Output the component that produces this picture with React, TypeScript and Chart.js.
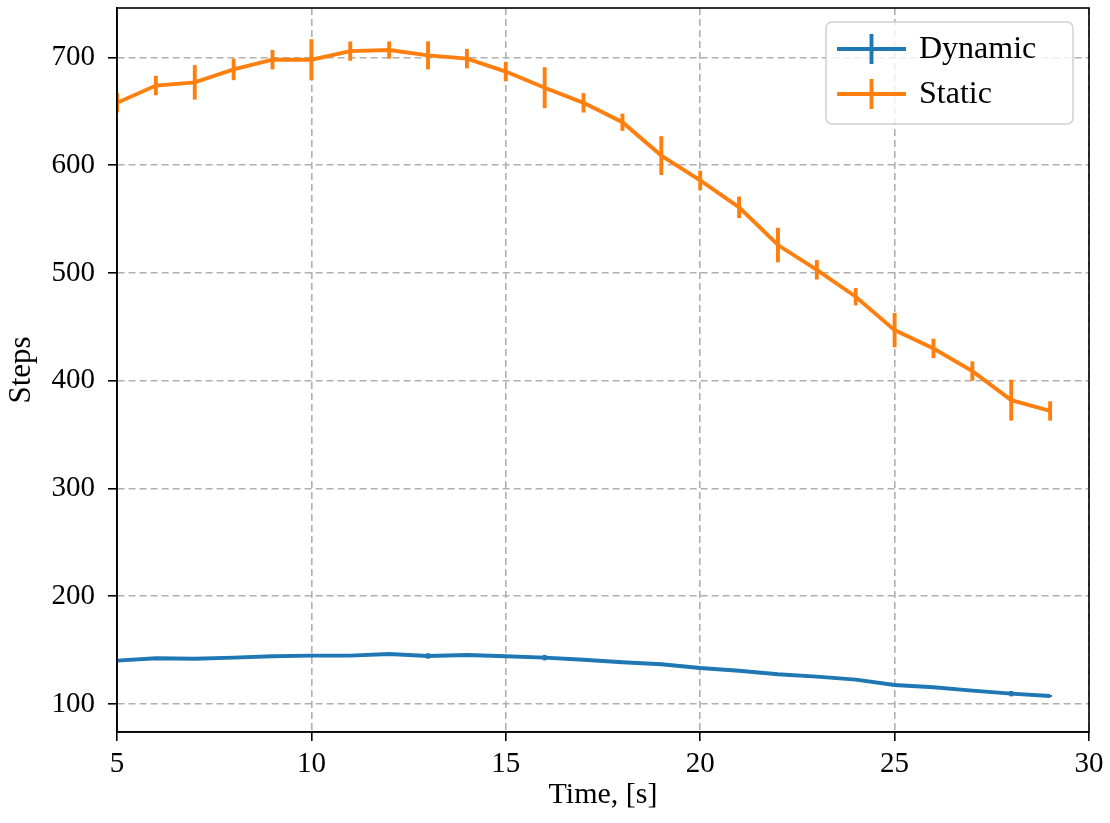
import React, { useEffect, useRef } from "react";
import { Chart, registerables } from "chart.js";

Chart.register(...registerables);

const timeSteps = [5, 6, 7, 8, 9, 10, 11, 12, 13, 14, 15, 16, 17, 18, 19, 20, 21, 22, 23, 24, 25, 26, 27, 28, 29];
const dynamicSteps = [140.2, 142.4, 142, 143, 144.3, 144.9, 144.9, 146.4, 144.6, 145.5, 144.3, 143, 141, 138.7, 136.9, 133.4, 130.9, 127.6, 125.4, 122.6, 117.6, 115.5, 112.4, 109.6, 107.4];
const dynamicErr = [1, 1, 1, 1, 1, 1, 1, 1, 2.5, 1, 1, 2.5, 1, 1, 1.5, 1, 1, 1, 1, 1, 1.5, 1, 1, 2.5, 1];
const staticSteps = [658, 674, 677, 689, 698, 698, 706, 707, 702, 699, 687, 672, 658, 640, 609, 586, 561, 526, 503, 478, 447, 430, 409, 382, 372];
const staticErr = [9, 9, 16, 10, 9, 19, 9, 8, 13, 9, 9, 19, 9, 8, 18, 9, 10, 16, 9, 8, 16, 9, 9, 19, 9];
const xTicks = [5, 10, 15, 20, 25, 30];
const yTicks = [100, 200, 300, 400, 500, 600, 700];
const seriesNames = ["Dynamic", "Static"];
const seriesColors = ["#1f77b4", "#ff7f0e"];

const FONT = "'Liberation Serif', 'Times New Roman', serif";
const LW = 3.9;

const errorBarPlugin = {
  id: "errorBars",
  afterDatasetsDraw(chart: any) {
    const { ctx, chartArea, scales } = chart;
    const errs = [dynamicErr, staticErr];
    const vals = [dynamicSteps, staticSteps];
    ctx.save();
    ctx.beginPath();
    ctx.rect(chartArea.left, chartArea.top, chartArea.right - chartArea.left, chartArea.bottom - chartArea.top);
    ctx.clip();
    for (let d = 0; d < 2; d++) {
      ctx.strokeStyle = seriesColors[d];
      ctx.lineWidth = LW;
      ctx.lineCap = "butt";
      ctx.setLineDash([]);
      for (let i = 0; i < timeSteps.length; i++) {
        const x = scales.x.getPixelForValue(timeSteps[i]);
        const y1 = scales.y.getPixelForValue(vals[d][i] - errs[d][i]);
        const y2 = scales.y.getPixelForValue(vals[d][i] + errs[d][i]);
        ctx.beginPath();
        ctx.moveTo(x, y1);
        ctx.lineTo(x, y2);
        ctx.stroke();
      }
    }
    ctx.restore();
  },
  afterDraw(chart: any) {
    const { ctx, chartArea } = chart;
    ctx.save();
    ctx.setLineDash([]);
    // frame
    ctx.strokeStyle = "#000";
    ctx.lineWidth = 1.6;
    ctx.strokeRect(chartArea.left, chartArea.top, chartArea.right - chartArea.left, chartArea.bottom - chartArea.top);
    // legend
    const bw = 247, bh = 102;
    const bx = chartArea.right - 16 - bw;
    const by = chartArea.top + 14;
    const r = 6;
    ctx.beginPath();
    ctx.moveTo(bx + r, by);
    ctx.lineTo(bx + bw - r, by);
    ctx.arcTo(bx + bw, by, bx + bw, by + r, r);
    ctx.lineTo(bx + bw, by + bh - r);
    ctx.arcTo(bx + bw, by + bh, bx + bw - r, by + bh, r);
    ctx.lineTo(bx + r, by + bh);
    ctx.arcTo(bx, by + bh, bx, by + bh - r, r);
    ctx.lineTo(bx, by + r);
    ctx.arcTo(bx, by, bx + r, by, r);
    ctx.closePath();
    ctx.fillStyle = "rgba(255,255,255,0.8)";
    ctx.fill();
    ctx.strokeStyle = "rgba(204,204,204,0.9)";
    ctx.lineWidth = 1.5;
    ctx.stroke();
    const rows = [by + 27, by + 72];
    for (let i = 0; i < 2; i++) {
      const cy = rows[i];
      ctx.strokeStyle = seriesColors[i];
      ctx.lineWidth = LW;
      ctx.beginPath();
      ctx.moveTo(bx + 11, cy);
      ctx.lineTo(bx + 80, cy);
      ctx.stroke();
      ctx.beginPath();
      ctx.moveTo(bx + 45.5, cy - 15);
      ctx.lineTo(bx + 45.5, cy + 15);
      ctx.stroke();
      ctx.fillStyle = "#000";
      ctx.font = `32px ${FONT}`;
      ctx.textAlign = "left";
      ctx.textBaseline = "middle";
      ctx.fillText(seriesNames[i], bx + 93, cy + 1);
    }
    ctx.restore();
  },
};

export default function App() {
  const canvasRef = useRef<HTMLCanvasElement | null>(null);

  useEffect(() => {
    const canvas = canvasRef.current;
    if (!canvas) return;
    const gridCommon = {
      color: "#b0b0b0",
      lineWidth: 1.6,
      tickColor: "#000",
      tickLength: 9,
      tickWidth: 1.6,
      tickBorderDash: [],
    };
    const borderCommon = { display: true, color: "#000", width: 1.6, dash: [7, 4] };
    const chart = new Chart(canvas, {
      type: "line",
      data: {
        datasets: [
          {
            label: seriesNames[0],
            data: timeSteps.map((t, i) => ({ x: t, y: dynamicSteps[i] })),
            borderColor: seriesColors[0],
            backgroundColor: seriesColors[0],
            borderWidth: LW,
            pointRadius: 0,
            tension: 0,
          },
          {
            label: seriesNames[1],
            data: timeSteps.map((t, i) => ({ x: t, y: staticSteps[i] })),
            borderColor: seriesColors[1],
            backgroundColor: seriesColors[1],
            borderWidth: LW,
            pointRadius: 0,
            tension: 0,
          },
        ],
      },
      options: {
        animation: false,
        responsive: false,
        events: [],
        layout: { padding: { left: 0, right: 21, top: 8, bottom: 0 } },
        plugins: { legend: { display: false }, tooltip: { enabled: false } },
        scales: {
          x: {
            type: "linear",
            min: 5,
            max: 30,
            afterBuildTicks: (scale: any) => {
              scale.ticks = xTicks.map((v) => ({ value: v }));
            },
            afterFit: (scale: any) => {
              scale.height = 91;
              scale.paddingLeft = 0;
              scale.paddingRight = 0;
            },
            grid: gridCommon as any,
            border: borderCommon as any,
            ticks: {
              color: "#000",
              font: { family: FONT, size: 29 },
              padding: 6,
              maxRotation: 0,
              autoSkip: false,
            },
            title: {
              display: true,
              text: "Time, [s]",
              color: "#000",
              font: { family: FONT, size: 30 },
              padding: { top: 0, bottom: 10 },
            },
          },
          y: {
            type: "linear",
            min: 74,
            max: 746,
            afterBuildTicks: (scale: any) => {
              scale.ticks = yTicks.map((v) => ({ value: v }));
            },
            afterFit: (scale: any) => {
              scale.width = 117;
              scale.paddingTop = 0;
              scale.paddingBottom = 0;
            },
            grid: gridCommon as any,
            border: borderCommon as any,
            ticks: {
              color: "#000",
              font: { family: FONT, size: 29 },
              padding: 13,
              autoSkip: false,
            },
            title: {
              display: true,
              text: "Steps",
              color: "#000",
              font: { family: FONT, size: 31 },
              padding: { top: 3, bottom: 0 },
            },
          },
        },
      } as any,
      plugins: [errorBarPlugin],
    });
    return () => chart.destroy();
  }, []);

  return (
    <div style={{ position: "absolute", left: 0, top: 0, width: 1110, height: 823, background: "#fff" }}>
      <canvas ref={canvasRef} width={1110} height={823} style={{ display: "block" }} />
    </div>
  );
}
